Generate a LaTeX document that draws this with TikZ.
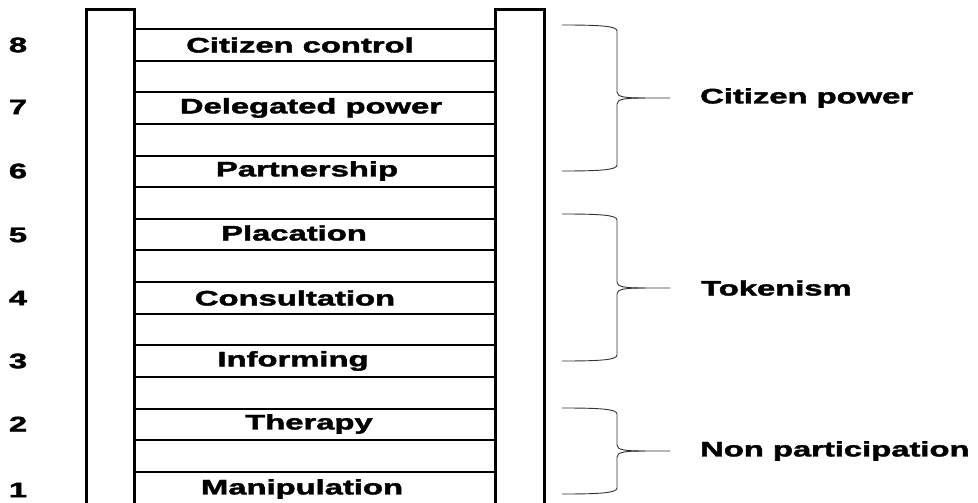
\documentclass[tikz,border=0pt]{standalone}
\usepackage{fontspec}
\usepackage{graphicx}
\setmainfont{Liberation Sans}[BoldFeatures={FakeBold=1.6}]
\newcommand{\widetxt}[1]{\scalebox{1.56}[1]{#1}}
\tikzset{
  lbl/.style={font=\fontsize{21}{25}\selectfont\bfseries, inner sep=0pt},
  rail/.style={line width=3pt, line join=miter},
  rung/.style={line width=2pt},
  brace/.style={line width=0.9pt, black!80}
}
\begin{document}
\begin{tikzpicture}[x=1pt,y=-1pt]
\useasboundingbox (0,0) rectangle (978,503);
\fill[white] (0,0) rectangle (978,503);
\begin{scope}
\clip (0,0) rectangle (978,503);
% rails
\draw[rail] (86,515) -- (86,10) -- (134,10) -- (134,515);
\draw[rail] (495,515) -- (495,10) -- (544,10) -- (544,515);
% rungs
\foreach \k in {0,...,14}{
  \draw[rung] (134,{29+\k*31.64}) -- (495,{29+\k*31.64});
}
\end{scope}
% step labels
\node[lbl] (s8) at (300,45) {\widetxt{Citizen control}};
\node[lbl] (s7) at (311,108) {\widetxt{Delegated power}};
\node[lbl] (s6) at (307,171) {\widetxt{Partnership}};
\node[lbl] (s5) at (294,233) {\widetxt{Placation}};
\node[lbl] (s4) at (295,298) {\widetxt{Consultation}};
\node[lbl] (s3) at (293,361) {\widetxt{Informing}};
\node[lbl] (s2) at (309,424) {\widetxt{Therapy}};
\node[lbl] (s1) at (302,489) {\widetxt{Manipulation}};
% numbers
\node[lbl] (n8) at (18,45) {\widetxt{8}};
\node[lbl] (n7) at (18,107) {\widetxt{7}};
\node[lbl] (n6) at (18,171) {\widetxt{6}};
\node[lbl] (n5) at (18,235) {\widetxt{5}};
\node[lbl] (n4) at (18,298) {\widetxt{4}};
\node[lbl] (n3) at (18,361) {\widetxt{3}};
\node[lbl] (n2) at (18,424) {\widetxt{2}};
\node[lbl] (n1) at (18,490) {\widetxt{1}};
% braces
\foreach \t/\m/\b in {25/98/171, 214/288/361, 408/451/494}{
  \draw[brace] (562,\t) .. controls (600,\t) and (617,{\t+1}) .. (617,{\t+6})
    -- (617,{\m-6}) .. controls (617,{\m-1}) and (625,\m) .. (645,\m) -- (670,\m);
  \draw[brace] (562,\b) .. controls (600,\b) and (617,{\b-1}) .. (617,{\b-6})
    -- (617,{\m+6}) .. controls (617,{\m+1}) and (625,\m) .. (645,\m);
}
% group labels
\node[lbl, anchor=west] (g3) at (700,98) {\widetxt{Citizen power}};
\node[lbl, anchor=west] (g2) at (701,288) {\widetxt{Tokenism}};
\node[lbl, anchor=west] (g1) at (700,451) {\widetxt{Non participation}};
\end{tikzpicture}
\end{document}
